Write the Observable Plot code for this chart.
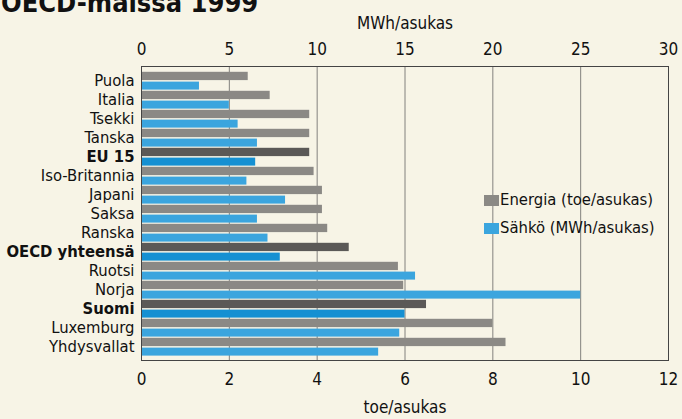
<!DOCTYPE html>
<html><head><meta charset="utf-8">
<script src="https://cdn.jsdelivr.net/npm/d3@7"></script>
<script src="https://cdn.jsdelivr.net/npm/@observablehq/plot@0.6"></script>
<style>
html,body{margin:0;padding:0;background:#f7f4e6;}
#wrap{position:relative;width:682px;height:419px;overflow:hidden;font-family:"Liberation Sans Narrow","DejaVu Sans Condensed",Roboto,sans-serif;color:#111;}
#title{position:absolute;left:1px;top:-13px;font-size:27px;font-weight:bold;white-space:nowrap;}
#legend{position:absolute;left:484px;top:186px;font-size:16.5px;line-height:28px;}
#legend .sw{display:inline-block;width:15px;height:11px;vertical-align:-1px;margin-right:1px;}
</style></head>
<body><div id="wrap"><div id="title">OECD-maissa 1999</div><div id="chart"></div>
<div id="legend"></div></div>
<script>
const countries = ["Puola","Italia","Tsekki","Tanska","EU 15","Iso-Britannia","Japani","Saksa","Ranska","OECD yhteensä","Ruotsi","Norja","Suomi","Luxemburg","Yhdysvallat"];
const energia = [2.43, 2.93, 3.83, 3.83, 3.83, 3.93, 4.12, 4.12, 4.24, 4.73, 5.85, 5.97, 6.49, 8.0, 8.30];
const sahko = [3.3, 5.0, 5.5, 6.6, 6.5, 6.0, 8.2, 6.6, 7.2, 7.9, 15.6, 25.0, 15.0, 14.7, 13.5];
const bold = ["EU 15","OECD yhteensä","Suomi"];
const toeTicks = [0, 2, 4, 6, 8, 10, 12];
const seriesNames = ["Energia (toe/asukas)", "Sähkö (MWh/asukas)"];
const MWH_PER_TOE = 2.5;

const rows = countries.map((c, i) => ({country: c, energia: energia[i], sahko: sahko[i], bold: bold.includes(c)}));

const grayN = "#8b8985", grayB = "#5b5957", blueN = "#3ba5de", blueB = "#1590d2";
const font = "\"Liberation Sans Narrow\",\"DejaVu Sans Condensed\",Roboto,sans-serif";

const chart = Plot.plot({
  width: 682, height: 419,
  marginLeft: 141, marginRight: 14, marginTop: 66, marginBottom: 59,
  style: {background: "transparent", fontFamily: font, fontSize: "17px", color: "#111"},
  x: {domain: [0, 12]},
  y: {domain: countries, padding: 0, axis: null},
  marks: [
    Plot.gridX(toeTicks, {stroke: "#555", strokeOpacity: 0.9, strokeWidth: 0.8}),
    Plot.barX(rows, {y: "country", x: "energia", fill: d => d.bold ? grayB : grayN, insetTop: 0.8, insetBottom: 9.9}),
    Plot.barX(rows, {y: "country", x: d => d.sahko / MWH_PER_TOE, fill: d => d.bold ? blueB : blueN, insetTop: 10.6, insetBottom: 0.4}),
    Plot.frame({stroke: "#444", strokeWidth: 1}),
    Plot.axisX(toeTicks, {anchor: "bottom", tickSize: 0, tickPadding: 12, fontSize: 17, label: "toe/asukas", labelAnchor: "center", labelOffset: 52, labelArrow: "none"}),
    Plot.axisX(toeTicks, {anchor: "top", tickSize: 0, tickPadding: 12, fontSize: 17, tickFormat: d => d * MWH_PER_TOE, label: "MWh/asukas", labelAnchor: "center", labelOffset: 50, labelArrow: "none"}),
    Plot.text(rows.filter(d => !d.bold), {y: "country", text: "country", frameAnchor: "left", textAnchor: "end", dx: -7, fontSize: 16.5, fill: "#111"}),
    Plot.text(rows.filter(d => d.bold), {y: "country", text: "country", frameAnchor: "left", textAnchor: "end", dx: -7, fontSize: 16.5, fontWeight: "bold", fill: "#111"})
  ]
});
document.getElementById("chart").appendChild(chart);

const leg = document.getElementById("legend");
[[seriesNames[0], grayN], [seriesNames[1], blueN]].forEach(([n, c]) => {
  const d = document.createElement("div");
  d.innerHTML = `<span class="sw" style="background:${c}"></span>${n}`;
  leg.appendChild(d);
});
</script></body></html>
